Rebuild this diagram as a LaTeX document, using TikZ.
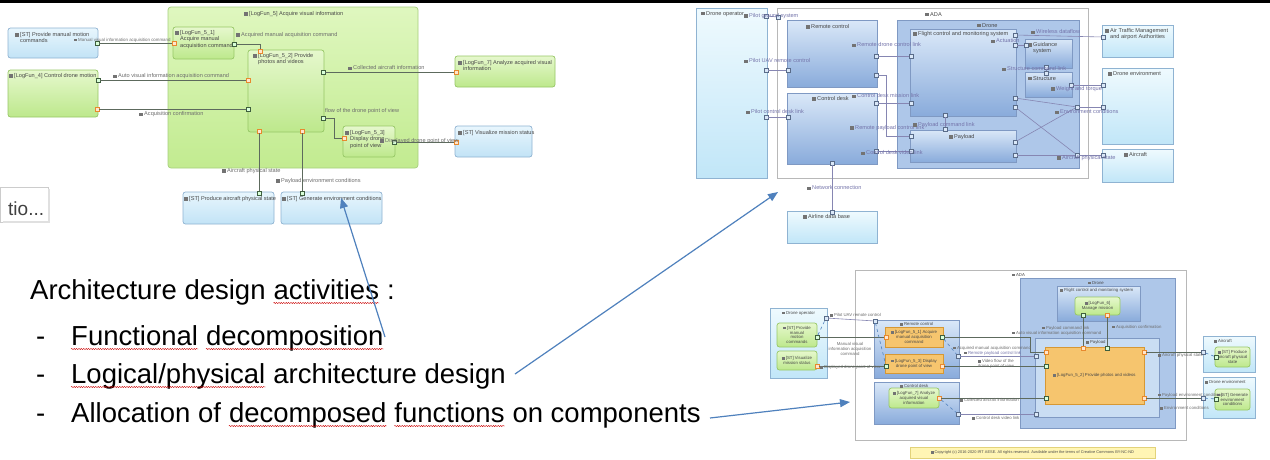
\documentclass[tikz,border=0pt]{standalone}
\usepackage{fontspec}
\setmainfont{Liberation Sans}
\usetikzlibrary{arrows.meta,calc,decorations.pathmorphing}

\definecolor{grA}{HTML}{E6F8CD}
\definecolor{grB}{HTML}{BDE88C}
\definecolor{grD}{HTML}{97C766}
\definecolor{cnA}{HTML}{DFF7BF}
\definecolor{cnB}{HTML}{C2EB90}
\definecolor{blA}{HTML}{E8F6FD}
\definecolor{blB}{HTML}{C2E3F6}
\definecolor{blD}{HTML}{8FB3D2}
\definecolor{lcA}{HTML}{DAE8F8}
\definecolor{lcB}{HTML}{89ABDB}
\definecolor{lcD}{HTML}{7F99C3}
\definecolor{drF}{HTML}{AEC7E9}
\definecolor{plF}{HTML}{C9DDF3}
\definecolor{acA}{HTML}{EFFAFE}
\definecolor{acB}{HTML}{C1E6F8}
\definecolor{orF}{HTML}{F6C56E}
\definecolor{orD}{HTML}{D69834}
\definecolor{wirec}{HTML}{5D6A5D}
\definecolor{lwirec}{HTML}{8686B2}
\definecolor{ltxt}{HTML}{6C6C6C}
\definecolor{ptxt}{HTML}{7474AA}
\definecolor{arrc}{HTML}{4F81BD}
\definecolor{portor}{HTML}{E8892E}
\definecolor{portgr}{HTML}{3E5E3E}
\definecolor{copyF}{HTML}{FFF5B4}
\definecolor{copyD}{HTML}{E2D27A}

% tiny diagram fonts and icons
\newcommand\tf{\fontsize{5.6}{6.3}\selectfont}
\newcommand\tff{\fontsize{4.3}{4.9}\selectfont}
\newcommand\ic{\textcolor{black!55}{\rule[-0.3pt]{0.7em}{0.65em}}\hspace{0.2em}}
\newcommand\tl[1]{\ic\begin{tabular}[t]{@{}l@{}}#1\end{tabular}}
% box helper: style, name, north-west corner, width, height
\newcommand\bx[5]{\node[#1, minimum width=#4pt, minimum height=#5pt] (#2) at (#3) {};}

\tikzset{
  nwbox/.style={anchor=north west, inner sep=0pt, outer sep=0pt},
  cntbox/.style={nwbox, rounded corners=3pt, draw=grD!85, line width=0.7pt, top color=cnA, bottom color=cnB},
  funbox/.style={nwbox, rounded corners=2.5pt, draw=grD, line width=0.7pt, top color=grA, bottom color=grB},
  stbox/.style={nwbox, rounded corners=2.5pt, draw=blD, line width=0.7pt, top color=blA, bottom color=blB},
  cmpbox/.style={nwbox, draw=lcD, line width=0.6pt, top color=lcA, bottom color=lcB},
  dronebox/.style={nwbox, draw=lcD, line width=0.6pt, fill=drF},
  paybox/.style={nwbox, draw=lcD, line width=0.6pt, fill=plF},
  actbox/.style={nwbox, draw=blD, line width=0.6pt, top color=acA, bottom color=acB},
  adabox/.style={nwbox, draw=black!28, line width=0.7pt, fill=white},
  orbox/.style={nwbox, draw=orD, line width=0.6pt, fill=orF},
  ttl/.style={anchor=north west, inner sep=0pt, font=\tf, text=black!72, align=left},
  sttl/.style={anchor=north west, inner sep=0pt, font=\tff, text=black!72, align=left},
  ctl/.style={inner sep=0pt, font=\tff, text=black!72, align=center},
  lab/.style={anchor=west, inner sep=0pt, font=\tf, text=ltxt},
  plab/.style={anchor=west, inner sep=0pt, font=\tf, text=ptxt},
  slab/.style={anchor=west, inner sep=0pt, font=\tff, text=ltxt},
  iport/.style={draw=portor, fill=orange!20, minimum size=3.6pt, inner sep=0pt, line width=0.6pt},
  oport/.style={draw=portgr, fill=green!15, minimum size=3.6pt, inner sep=0pt, line width=0.6pt},
  lport/.style={draw=lcD!70!black, fill=lcA, minimum size=3.8pt, inner sep=0pt, line width=0.5pt},
  wire/.style={draw=wirec, line width=0.8pt},
  lwire/.style={draw=lwirec, line width=0.6pt},
  alloc/.style={draw=arrc, dashed, line width=0.6pt},
  big/.style={anchor=base west, inner sep=0pt, font=\fontsize{27.5}{33}\selectfont},
  callout/.style={draw=arrc, line width=1.2pt, -{Triangle[length=10pt,width=8pt]}},
  spell/.style={draw=red!80!black, line width=0.4pt, decorate,
    decoration={snake, amplitude=0.6pt, segment length=2.4pt}},
}

\begin{document}
\begin{tikzpicture}[x=1pt,y=-1pt]
\useasboundingbox (0,0) rectangle (1270,459);
\fill[white] (0,0) rectangle (1270,459);
\fill[black] (0,0) rectangle (1270,3);

%% ================= functional breakdown (top left)
\bx{cntbox}{lf5}{168,7}{250}{161}
\node[ttl] (lf5t) at (244,11) {\ic[LogFun\_5] Acquire visual information};
\bx{stbox}{st1}{8,28}{90}{30}

\node[lab, font=\fontsize{4.4}{5}\selectfont] (l1) at (74,40) {\ic Manual visual information acquisition command};
\node[lab] (l2) at (236,35) {\ic Acquired manual acquisition command};
\node[lab] (l3) at (113,76.5) {\ic Auto visual information acquisition command};
\node[lab] (l4) at (139,114.5) {\ic Acquisition confirmation};
\node[lab] (l5) at (348,68) {\ic Collected aircraft information};
\node[lab] (l6) at (304,111) {\ic Video flow of the drone point of view};
\node[lab] (l8) at (222,171) {\ic Aircraft physical state};
\node[lab] (l9) at (276,181) {\ic Payload environment conditions};

\bx{funbox}{lf4}{8,70}{90}{47}
\bx{funbox}{lf51}{173,27}{61}{32}
\bx{funbox}{lf52}{248,50}{76}{82}
\bx{funbox}{lf53}{343,126}{52}{31}
\bx{funbox}{lf7}{455,56}{100}{31}
\bx{stbox}{st2}{455,126}{77}{31}
\bx{stbox}{st3}{183,192}{91}{32}
\bx{stbox}{st4}{281,192}{101}{32}

\node[ttl] (st1t) at ([shift={(7,4)}]st1.north west) {\tl{[ST] Provide manual motion\\commands}};
\node[ttl] (lf4t) at ([shift={(1,3)}]lf4.north west) {\ic[LogFun\_4] Control drone motion};
\node[ttl] (lf51t) at ([shift={(2,3)}]lf51.north west) {\tl{[LogFun\_5\_1]\\Acquire manual\\acquisition command}};
\node[ttl] (lf52t) at ([shift={(5,3)}]lf52.north west) {\tl{[LogFun\_5\_2] Provide\\photos and videos}};
\node[ttl] (lf53t) at ([shift={(2,4)}]lf53.north west) {\tl{[LogFun\_5\_3]\\Display drone\\point of view}};
\node[ttl] (lf7t) at ([shift={(3,4)}]lf7.north west) {\tl{[LogFun\_7] Analyze acquired visual\\information}};
\node[ttl] (st2t) at ([shift={(3,4)}]st2.north west) {\ic[ST] Visualize mission status};
\node[ttl] (st3t) at ([shift={(1,4)}]st3.north west) {\ic[ST] Produce aircraft physical state};
\node[ttl] (st4t) at ([shift={(1,4)}]st4.north west) {\ic[ST] Generate environment conditions};

\node[oport] (a1) at (97,43) {};
\node[iport] (a2) at (174,43) {};
\node[oport] (a3) at (234,44) {};
\node[iport] (a4) at (260,51) {};
\node[oport] (a5) at (98,80) {};
\node[iport] (a6) at (248,80) {};
\node[oport] (a7) at (248,109) {};
\node[iport] (a8) at (97,109) {};
\node[oport] (a9) at (323,72) {};
\node[iport] (a10) at (456,72) {};
\node[oport] (a11) at (323,118) {};
\node[iport] (a12) at (344,138) {};
\node[oport] (a13) at (394,142) {};
\node[iport] (a14) at (456,142) {};
\node[iport] (a15) at (259,131) {};
\node[oport] (a16) at (259,193) {};
\node[iport] (a17) at (302,131) {};
\node[oport] (a18) at (302,193) {};

\draw[wire] (a1) -- (a2);
\draw[wire] (a3.east) -| (a4.north);
\draw[wire] (a5) -- (a6);
\draw[wire] (a7) -- (a8);
\draw[wire] (a9) -- (a10);
\draw[wire] (a11.east) -- ++(9,0) |- (a12.west);
\draw[wire] (a13) -- (a14);
\draw[wire] (a15) -- (a16);
\draw[wire] (a17) -- (a18);
\node[lab] (l7) at (380,141) {\ic Displayed drone point of view};

%% ================= logical architecture (top right)
\bx{actbox}{op}{696,8}{71}{170}
\bx{adabox}{ada}{777,8}{311}{170}
\bx{cmpbox}{rc}{787,20}{90}{67}
\bx{cmpbox}{cd}{787,93}{90}{71}
\bx{dronebox}{dr}{897,20}{182}{148}
\bx{cmpbox}{fc}{910,29}{106}{87}
\bx{cmpbox}{pl}{910,130}{106}{32}
\bx{cmpbox}{gs}{1025,39}{47}{29}
\bx{cmpbox}{stc}{1025,72}{47}{25}
\bx{actbox}{atm}{1102,25}{71}{32}
\bx{actbox}{env}{1102,68}{71}{76}
\bx{actbox}{acf}{1102,149}{71}{33}
\bx{actbox}{adb}{787,211}{90}{32}

\node[ttl] (opt) at (701,11) {\ic Drone operator};
\node[ttl] (adat) at (925,12) {\ic ADA};
\node[ttl] (rct) at (806,24) {\ic Remote control};
\node[ttl] (cdt) at (812,96) {\ic Control desk};
\node[ttl] (drt) at (977,23) {\ic Drone};
\node[ttl] (fct) at (913,31) {\ic Flight control and monitoring system};
\node[ttl] (plt) at (949,134) {\ic Payload};
\node[ttl] (gst) at (1028,42) {\tl{Guidance\\system}};
\node[ttl] (stct) at (1028,76) {\ic Structure};
\node[ttl] (atmt) at (1105,28) {\tl{Air Traffic Management\\and airport Authorities}};
\node[ttl] (envt) at (1108,71) {\ic Drone environment};
\node[ttl] (acft) at (1124,152) {\ic Aircraft};
\node[ttl] (adbt) at (803,214) {\ic Airline data base};

\node[lport] (b1) at (766,16) {};
\node[lport] (b2) at (778,17) {};
\node[lport] (b3) at (766,70) {};
\node[lport] (b4) at (788,70) {};
\node[lport] (b5) at (766,117) {};
\node[lport] (b6) at (788,117) {};
\node[lport] (b7) at (876,56) {};
\node[lport] (b8) at (911,56) {};
\node[lport] (b9) at (876,75) {};
\node[lport] (b10) at (911,136) {};
\node[lport] (b11) at (876,103) {};
\node[lport] (b12) at (911,103) {};
\node[lport] (b13) at (876,151) {};
\node[lport] (b14) at (911,151) {};
\node[lport] (b15) at (945,115) {};
\node[lport] (b16) at (945,129) {};
\node[lport] (b17) at (832,163) {};
\node[lport] (b18) at (832,212) {};
\node[lport] (b19) at (1015,35) {};
\node[lport] (b20) at (1103,37) {};
\node[lport] (b21) at (1015,45) {};
\node[lport] (b22) at (1026,45) {};
\node[lport] (b23) at (1046,67) {};
\node[lport] (b24) at (1046,73) {};
\node[lport] (b25) at (1071,85) {};
\node[lport] (b26) at (1103,85) {};
\node[lport] (b27) at (1015,98) {};
\node[lport] (b28) at (1015,107) {};
\node[lport] (b29) at (1015,142) {};
\node[lport] (b30) at (1015,155) {};
\node[lport] (b31) at (1077,107) {};
\node[lport] (b32) at (1077,155) {};
\node[lport] (b33) at (1103,107) {};
\node[lport] (b34) at (1103,155) {};

\draw[lwire] (b1) -- (b2);
\draw[lwire] (b3) -- (b4);
\draw[lwire] (b5) -- (b6);
\draw[lwire] (b7) -- (b8);
\draw[lwire] (b9.east) -- ++(8,0) |- (b10.west);
\draw[lwire] (b11) -- (b12);
\draw[lwire] (b13) -- (b14);
\draw[lwire] (b15) -- (b16);
\draw[lwire] (b17) -- (b18);
\draw[lwire] (b19) -- (b20);
\draw[lwire] (b21) -- (b22);
\draw[lwire] (b23) -- (b24);
\draw[lwire] (b25) -- (b26);
\draw[lwire] (b27) -- (b31);
\draw[lwire] (b29) -- (b31);
\draw[lwire] (b28) -- (b32);
\draw[lwire] (b30) -- (b32);
\draw[lwire] (b31) -- (b33);
\draw[lwire] (b32) -- (b34);

\node[plab] (m1) at (744,16) {\ic Pilot ground system};
\node[plab] (m2) at (744,61) {\ic Pilot UAV remote control};
\node[plab] (m3) at (746,112) {\ic Pilot control desk link};
\node[plab] (m4) at (852,45) {\ic Remote drone control link};
\node[plab] (m5) at (850,128) {\ic Remote payload control link};
\node[plab] (m6) at (852,96) {\ic Control desk mission link};
\node[plab] (m7) at (861,153) {\ic Control desk video link};
\node[plab] (m8) at (913,125) {\ic Payload command link};
\node[plab] (m9) at (807,188) {\ic Network connection};
\node[plab] (m10) at (1031,32) {\ic Wireless dataflow};
\node[plab] (m11) at (991,41) {\ic Actuation};
\node[plab] (m12) at (1002,69) {\ic Structure command link};
\node[plab] (m13) at (1051,89) {\ic Weight and torque};
\node[plab] (m14) at (1055,112) {\ic Environment conditions};
\node[plab] (m15) at (1057,158) {\ic Aircraft physical state};

%% ================= allocation view (bottom right)
\bx{adabox}{ada2}{855,270}{331}{170}
\bx{actbox}{op2}{770,308}{57}{70}
\bx{funbox}{st5}{777,323}{40}{24}
\bx{funbox}{st6}{777,351}{40}{19}
\bx{cmpbox}{rc2}{874,320}{85}{58}
\bx{orbox}{o51}{885,327}{58}{20}
\bx{orbox}{o53}{885,354}{58}{19}
\bx{cmpbox}{cd2}{874,382}{85}{42}
\bx{funbox}{g7}{889,388}{50}{20}
\bx{dronebox}{dr2}{1020,278}{155}{150}
\bx{cmpbox}{fc2}{1057,286}{83}{35}
\bx{funbox}{g6}{1075,297}{45}{18}
\bx{paybox}{pl2}{1035,338}{124}{79}
\bx{orbox}{o52}{1045,347}{99}{57}
\bx{actbox}{acf2}{1203,336}{52}{36}
\bx{funbox}{g8}{1215,347}{35}{20}
\bx{actbox}{env2}{1203,377}{52}{41}
\bx{funbox}{g9}{1215,389}{35}{21}

\node[sttl] (op2t) at (782,311) {\ic Drone operator};
\node[sttl] (ada2t) at (1012,273) {\ic ADA};
\node[sttl] (rc2t) at (900,322) {\ic Remote control};
\node[sttl] (cd2t) at (900,384) {\ic Control desk};
\node[sttl] (dr2t) at (1088,281) {\ic Drone};
\node[sttl] (fc2t) at (1060,288.5) {\ic Flight control and monitoring system};
\node[sttl] (pl2t) at (1086,340.5) {\ic Payload};
\node[sttl] (acf2t) at (1214,339) {\ic Aircraft};
\node[sttl] (env2t) at (1205,380) {\ic Drone environment};
\node[ctl] (st5t) at (st5.center) {\ic[ST] Provide\\manual\\motion\\commands};
\node[ctl] (st6t) at (st6.center) {\ic[ST] Visualize\\mission status};
\node[ctl] (o51t) at (o51.center) {\ic[LogFun\_5\_1] Acquire\\manual acquisition\\command};
\node[ctl] (o53t) at (o53.center) {\ic[LogFun\_5\_3] Display\\drone point of view};
\node[ctl] (g7t) at (g7.center) {\ic[LogFun\_7] Analyze\\acquired visual\\information};
\node[ctl] (g6t) at (g6.center) {\ic[LogFun\_6]\\Manage mission};
\node[ctl] (o52t) at (o52.center) {\ic[LogFun\_5\_2] Provide photos and videos};
\node[ctl] (g8t) at (g8.center) {\ic[ST] Produce\\aircraft physical\\state};
\node[ctl] (g9t) at (g9.center) {\ic[ST] Generate\\environment\\conditions};

\node[lport] (c1) at (826,318) {};
\node[lport] (c2) at (875,321) {};
\node[oport] (c3) at (817,337) {};
\node[iport] (c4) at (886,337) {};
\node[oport] (c5) at (886,366) {};
\node[iport] (c6) at (817,366) {};
\node[oport] (c7) at (942,337) {};
\node[iport] (c8) at (942,366) {};
\node[lport] (c9) at (958,356) {};
\node[iport] (c10) at (939,398) {};
\node[lport] (c11) at (958,414) {};
\node[lport] (c12) at (1036,356) {};
\node[iport] (c13) at (1046,352) {};
\node[oport] (c14) at (1046,366) {};
\node[oport] (c15) at (1046,398) {};
\node[lport] (c16) at (1036,414) {};
\node[oport] (c17) at (1083,315) {};
\node[iport] (c18) at (1083,348) {};
\node[iport] (c19) at (1107,315) {};
\node[oport] (c20) at (1107,348) {};
\node[iport] (c21) at (1144,352) {};
\node[iport] (c22) at (1144,398) {};
\node[lport] (c23) at (1203,352) {};
\node[lport] (c24) at (1203,398) {};
\node[oport] (c25) at (1216,357) {};
\node[oport] (c26) at (1216,399) {};

\draw[lwire] (c1) -- (c2);
\draw[wire, line width=0.6pt] (c3) -- (c4);
\draw[wire, line width=0.6pt] (c5) -- (c6);
\draw[wire, line width=0.6pt] (c7.east) -- (1030,337) |- (c13.west);
\draw[lwire] (c9) -- (c12);
\draw[wire, line width=0.6pt] (c8) -- (c14);
\draw[wire, line width=0.6pt] (c10) -- (c15);
\draw[lwire] (c11) -- (c16);
\draw[wire, line width=0.6pt] (c17) -- (c18);
\draw[wire, line width=0.6pt] (c19) -- (c20);
\draw[wire, line width=0.6pt] (c21) -- (c23);
\draw[wire, line width=0.6pt] (c22) -- (c24);
\draw[alloc] (c3) -- (c1);
\draw[alloc] (c2) -- (c5);
\draw[alloc] (c7) -- (c9);
\draw[alloc] (c10) -- (c11);
\draw[alloc] (c25) -- (c23);
\draw[alloc] (c26) -- (c24);

\node[slab] (n1) at (830,315) {\ic Pilot UAV remote control};
\node[ctl, text=ltxt] (n2) at (850,349) {Manual visual\\information acquisition\\command};
\node[slab] (n3) at (820,367.5) {\ic Displayed drone point of view};
\node[slab] (n4) at (953,348) {\ic Acquired manual acquisition command};
\node[slab, text=ptxt] (n5) at (964,353) {\ic Remote payload control link};
\node[ctl, text=ltxt] (n6) at (996,364) {\ic Video flow of the\\drone point of view};
\node[slab] (n7) at (960,400.5) {\ic Collected aircraft information};
\node[slab] (n8) at (972,418) {\ic Control desk video link};
\node[slab] (n9) at (1042,328) {\ic Payload command link};
\node[slab] (n10) at (1012,333) {\ic Auto visual information acquisition command};
\node[slab] (n11) at (1112,327) {\ic Acquisition confirmation};
\node[slab] (n12) at (1158,355.5) {\ic Aircraft physical state};
\node[slab] (n13) at (1158,395) {\ic Payload environment conditions};
\node[slab] (n14) at (1160,408) {\ic Environment conditions};

\node[nwbox, draw=copyD, fill=copyF, minimum width=245pt, minimum height=11pt] (cpy) at (910,447) {};
\node[inner sep=0pt, font=\fontsize{3.9}{4.4}\selectfont, text=black!70] (cpyt) at (cpy.center) {\ic Copyright (c) 2016-2020 IRT AESE. All rights reserved. Available under the terms of Creative Commons BY-NC-ND};

%% ================= slide text
\node[nwbox, draw=black!20, fill=white, minimum width=48pt, minimum height=35pt] (tbox) at (0,187) {};
\draw[black!12, line width=1.5pt] (tbox.north east) ++(1,2) -- ++(0,33) -- ++(-46,0);
\node[anchor=base west, inner sep=0pt, font=\fontsize{19}{22}\selectfont, text=black!75] (tboxt) at (8,215) {tio...};

\def\sp{7.6pt}
\node[big] (h0a) at (30,299) {Architecture design};
\node[big] (h0b) at ([xshift=\sp]h0a.base east) {activities};
\node[big] (h0c) at ([xshift=\sp]h0b.base east) {:};
\node[big] (d1) at (36,345) {-};
\node[big] (d2) at (36,383) {-};
\node[big] (d3) at (36,422) {-};
\node[big] (i1a) at (71,345) {Functional};
\node[big] (i1b) at ([xshift=\sp]i1a.base east) {decomposition};
\node[big] (i2a) at (71,383) {Logical/physical};
\node[big] (i2b) at ([xshift=\sp]i2a.base east) {architecture design};
\node[big] (i3a) at (71,422) {Allocation of};
\node[big] (i3b) at ([xshift=\sp]i3a.base east) {decomposed};
\node[big] (i3c) at ([xshift=\sp]i3b.base east) {functions};
\node[big] (i3d) at ([xshift=\sp]i3c.base east) {on components};
\foreach \w in {h0b,i1a,i1b,i2a,i3b,i3c}
  \draw[spell] ([yshift=-4pt]\w.base west) -- ([yshift=-4pt]\w.base east);

\coordinate (s1) at (385,337);
\coordinate (t1) at (341,198);
\coordinate (s2) at (515,374);
\coordinate (t2) at (778,192);
\coordinate (s3) at (710,418);
\coordinate (t3) at (850,402);
\draw[callout] (s1) -- (t1);
\draw[callout] (s2) -- (t2);
\draw[callout] (s3) -- (t3);
\end{tikzpicture}
\end{document}
